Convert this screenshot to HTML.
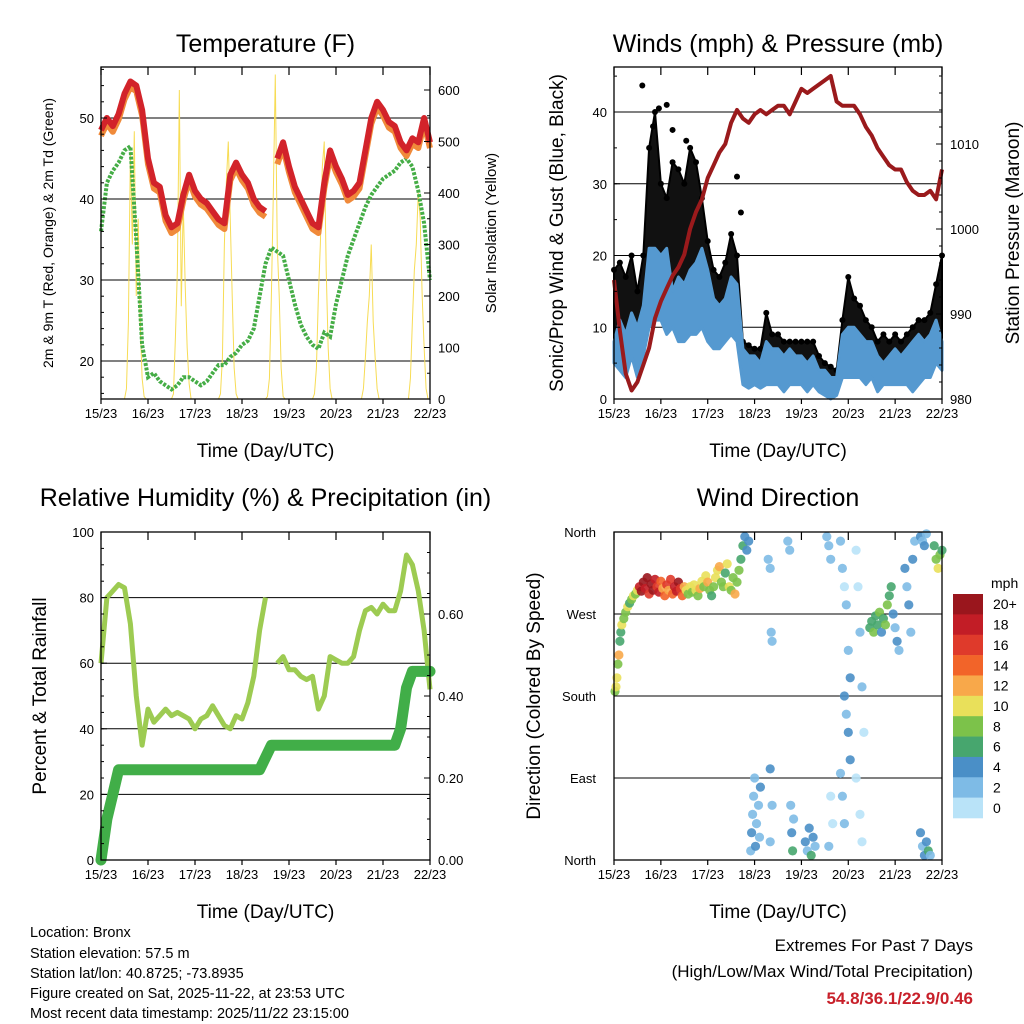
<!DOCTYPE html>
<html><head><meta charset="utf-8"><style>
html,body{margin:0;padding:0;background:#fff;}
svg{display:block;font-family:"Liberation Sans",sans-serif;}
</style></head><body>
<svg id="chart" width="1024" height="1024" viewBox="0 0 1024 1024" xmlns="http://www.w3.org/2000/svg">
<g id="layer"></g>
<g font-size="14.5" fill="#000">
<text x="30" y="937">Location: Bronx</text>
<text x="30" y="958">Station elevation: 57.5 m</text>
<text x="30" y="978">Station lat/lon: 40.8725; -73.8935</text>
<text x="30" y="998">Figure created on Sat, 2025-11-22, at 23:53 UTC</text>
<text x="30" y="1018">Most recent data timestamp: 2025/11/22 23:15:00</text>
</g>
<g text-anchor="end" font-size="17">
<text x="973" y="951">Extremes For Past 7 Days</text>
<text x="973" y="977">(High/Low/Max Wind/Total Precipitation)</text>
<text x="973" y="1004" font-weight="bold" fill="#c8202a">54.8/36.1/22.9/0.46</text>
</g>
</svg>
<script>
// ---- shared time axis (3-hour steps over 7 days) ----
const dayLabels = ["15/23","16/23","17/23","18/23","19/23","20/23","21/23","22/23"];
// ---- Temperature panel ----
const tempF = [48.5,50,49,50.5,53,54.5,54,51,45,42,41.5,38,36.5,37,40.5,43,41,40,39.5,38.5,37.5,37,43,44.5,43,42,40,39,38.5,null,45,47,44,41.5,40,38.5,37,36.5,42,46,44,42.5,40.5,41,42,46,50,52,51,49.5,49,47,46,47.5,47,50,47];
const dewF = [36,42,43.5,44.5,46,46.5,35,22,18,18.5,17.5,17,16.5,17,18,18,17.5,17,17.5,18.5,19.5,19.5,20.5,21,22,22.5,24,28,32,34,33.5,33,30,27,24.5,23,22,21.5,23.5,23,27,30,33,35,37,39,40.5,41.5,42.5,43,43.5,44.5,45,44,41,37,30];
// solar insolation per day (16..22), hourly 12..21 UTC
const solar = [
 [20,150,480,300,520,200,350,150,40,5],
 [10,120,250,600,180,380,220,100,30,0],
 [10,80,300,420,500,350,200,60,10,0],
 [5,40,200,400,630,300,200,60,5,0],
 [10,60,200,300,450,500,250,100,20,0],
 [0,20,80,150,200,300,150,80,20,0],
 [0,40,150,250,300,400,350,200,100,20]];
const tempTicks = [20,30,40,50];
const solarTicks = [0,100,200,300,400,500,600];
// ---- Wind panel ----
const pressure = [994,988,983,981,982,984,986,989.5,991.5,993,994.5,995.5,997,1000,1002,1003.5,1006,1007.5,1009,1010,1012.5,1014,1013,1012.5,1013.5,1014,1013.5,1014,1014.5,1014.5,1013.5,1015,1016.5,1016,1016.5,1017,1017.5,1018,1015,1014.5,1014.5,1014.5,1013.5,1012,1011,1009.5,1008.5,1007.5,1007,1007,1005.5,1004.5,1004,1004,1004.5,1003.5,1007];
const windHi = [8,11,9,12,10,13,21,21,20,21,15,17,16,18,19,21,18,14,13,14,17,16,7,6,6,5,8,7,7,6,7,6,6,5,6,4,4,3,3,9,10,10,9,8,8,6,5,6,7,6,7,8,9,8,9,11,8];
const windLo = [5,4,3,6,3,6,10,11,11,9,10,8,8,9,9,10,8,7,7,8,9,8,2,1.5,2,1.5,2,2,2,1,2,2,2,1,2,1,0.5,0,0.5,3,3,3,3,2,3,1,2,2,2,2,2,1,2,3,3,5,4];
const gustHi = [18,19,17,20,15,20,35,40,30,28,33,32,30,35,33,28,22,18,17,19,23,20,8,7.5,7,7,12,9,9,8,8,8,8,8,8,6,5,4.5,4,11,17,14,13,11,10,8,9,8,9,8,9,10,11,11,12,16,20];
const gustOutHour = [14.5,23,27,37,63,65,20,30];
const gustOutVal = [43.7,40.5,41,36,31,26,38,37.5];
const windTicks = [0,10,20,30,40];
const presTicks = [980,990,1000,1010];
// ---- RH / precip panel ----
const rh = [60,80,82,84,83,72,50,35,46,42,44,46,44,45,44,43,40,43,44,47,44,41,40,44,43,48,56,70,80,null,60,62,58,58,56,55,56,46,50,62,61,60,60,62,70,76,77,75,78,76,76,82,93,90,82,70,52];
const precip = [0,0.1,0.16,0.22,0.22,0.22,0.22,0.22,0.22,0.22,0.22,0.22,0.22,0.22,0.22,0.22,0.22,0.22,0.22,0.22,0.22,0.22,0.22,0.22,0.22,0.22,0.22,0.22,0.25,0.28,0.28,0.28,0.28,0.28,0.28,0.28,0.28,0.28,0.28,0.28,0.28,0.28,0.28,0.28,0.28,0.28,0.28,0.28,0.28,0.28,0.28,0.32,0.42,0.46,0.46,0.46,0.46];
const rhTicks = [0,20,40,60,80,100];
const precipTicks = ["0.00","0.20","0.40","0.60"];
// ---- wind direction panel ----
const dirHour = [0.5,1,1.5,2,2.5,3,3.5,4,5,6,7,8,9,10,11,12,
 13,14,15,16,17,18,19,20,21,22,23,24,25,26,27,28,29,30,31,32,33,34,35,36,37,38,39,40,41,42,43,44,45,46,47,48,49,50,51,52,53,54,55,56,57,58,59,60,61,62,63,64,65,66,67,68,69,
 70,70.5,71,71.5,72,72.5,73,74,74.5,75,79,80,80.5,81,80,81,80,89,90,90.5,91,91.5,92,98,99,100,101,102,103,109,110,111,110,112,111,
 116,117,118,119,120,121,118,119,120,121,116,117,118,124,125,126,127,128,124,126,127,
 131,132,133,134,135,136,137,138,139,140,141,142,143,144,145,146,149,150,151,152,153,154,
 157,158,159,160,157,158,159,160,161,162,164,165,166,167,168];
const dirDeg = [185,190,200,215,225,240,250,258,265,272,278,282,286,290,292,296,
 300,295,305,298,310,292,303,296,308,300,294,306,298,290,302,296,308,292,300,295,305,298,290,300,296,292,300,294,302,296,290,298,306,300,312,305,296,290,300,310,318,322,305,300,315,325,300,296,310,292,305,318,330,345,355,340,350,
 10,30,50,70,90,15,40,60,25,80,330,320,250,240,100,60,20,350,340,60,30,10,45,20,10,35,5,25,15,355,345,330,15,40,70,
 350,320,300,280,230,200,180,160,140,110,95,70,40,340,300,250,190,140,90,50,20,
 255,262,250,268,258,272,250,265,258,280,290,300,270,255,240,230,320,300,280,250,330,350,
 355,350,345,358,30,15,5,20,10,5,345,330,320,335,340];
const dirSpd = [9,10,11,8,12,7,6,10,9,8,10,7,9,11,8,10,
 18,20,21,19,22,17,20,21,19,16,18,14,12,15,17,13,16,14,18,19,20,17,15,13,11,8,10,9,11,10,9,12,10,8,10,13,9,7,8,10,11,12,8,9,7,10,11,8,9,12,8,9,7,6,5,4,4,
 3,4,3,2,3,4,2,3,2,4,2,3,2,3,4,3,2,3,2,3,4,6,3,4,3,5,6,4,3,3,2,3,2,1,1,
 2,3,1,2,3,4,4,3,4,5,3,2,3,1,1,2,2,1,1,1,1,
 7,6,8,7,6,8,5,7,9,8,7,6,4,3,4,3,4,3,4,3,4,3,
 4,3,4,3,4,3,5,4,6,3,7,8,10,9,6];
const speedLabels = ["20+","18","16","14","12","10","8","6","4","2","0"];
const speedColors = ["#9a161d","#c21d26","#df3a2b","#f26429","#f8a84a","#e9e05a","#7cc24a","#47a66e","#4a8fc7","#7ebbe6","#b9e3f8"];

// ---- helpers ----
const NS = "http://www.w3.org/2000/svg";
const layer = document.getElementById('layer');
function mk(tag, attrs, parent, txt){
  const e = document.createElementNS(NS, tag);
  for (const k in attrs) e.setAttribute(k, attrs[k]);
  if (txt !== undefined) e.textContent = txt;
  (parent || layer).appendChild(e);
  return e;
}
function lin(d0,d1,r0,r1){ return v => r0 + (v-d0)*(r1-r0)/(d1-d0); }

function frame(P, title, ty){
  const g = mk('g', {});
  
  
  const t = mk('text', {x:(P.x0+P.x1)/2, y:ty, 'text-anchor':'middle', 'font-size':25}, g, title);
  
  
  const X = lin(0,7,P.x0,P.x1);
  dayLabels.forEach((lb,i)=>{
    const x = X(i);
    mk('line',{x1:x,x2:x,y1:P.y1,y2:P.y1+5,stroke:'#000','stroke-width':1.2},g);
    mk('line',{x1:x,x2:x,y1:P.y0,y2:P.y0+8,stroke:'#000','stroke-width':1.2},g);
    const tl = mk('text',{x:x,y:P.y1+19,'text-anchor':'middle','font-size':13},g,lb);
    
    
  });
  const xt = mk('text',{x:(P.x0+P.x1)/2,y:P.y1+58,'text-anchor':'middle','font-size':19},g,'Time (Day/UTC)');
  
  
  return g;
}
function border(P){
  const r = mk('rect',{x:P.x0,y:P.y0,width:P.x1-P.x0,height:P.y1-P.y0,fill:'none',stroke:'#000','stroke-width':1.3});
  
  
}
function leftTicks(P, ticks, Y, labels, minorStep, lo, hi){
  ticks.forEach((v,i)=>{
    mk('line',{x1:P.x0,x2:P.x0+6,y1:Y(v),y2:Y(v),stroke:'#000'});
    const t = mk('text',{x:P.x0-7,y:Y(v)+5,'text-anchor':'end','font-size':13},layer,labels?labels[i]:v);
    
    
  });
  if (minorStep) for (let v=lo; v<=hi; v+=minorStep){ mk('line',{x1:P.x0,x2:P.x0+3,y1:Y(v),y2:Y(v),stroke:'#000'}); }
}
function rightTicks(P, ticks, Y, labels, minorStep, lo, hi){
  ticks.forEach((v,i)=>{
    const val = labels ? parseFloat(labels[i]) : v;
    mk('line',{x1:P.x1,x2:P.x1-6,y1:Y(val),y2:Y(val),stroke:'#000'});
    const t = mk('text',{x:P.x1+8,y:Y(val)+5,'text-anchor':'start','font-size':13},layer,labels?labels[i]:v);
    
    
  });
  if (minorStep) for (let v=lo; v<=hi+1e-9; v+=minorStep){ mk('line',{x1:P.x1,x2:P.x1-3,y1:Y(v),y2:Y(v),stroke:'#000'}); }
}
function grid(P, vals, Y){
  vals.forEach(v=> mk('line',{x1:P.x0,x2:P.x1,y1:Y(v),y2:Y(v),stroke:'#000','stroke-width':1}));
}
function vtitle(x, y, txt, size, name){
  const t = mk('text',{x:x,y:y,'text-anchor':'middle','font-size':size,transform:`rotate(-90 ${x} ${y})`},layer,txt);
  
  
}
function pathFrom(arr, X, Y){
  let d = '', pen = false;
  arr.forEach((v,i)=>{
    if (v === null){ pen = false; return; }
    d += (pen ? 'L' : 'M') + X(i).toFixed(1) + ',' + Y(v).toFixed(1);
    pen = true;
  });
  return d;
}

// ===== Panel 1: Temperature =====
(function(){
  const P = {x0:101,x1:430,y0:67,y1:399,name:'temperature-panel'};
  frame(P,'Temperature (F)',52);
  const Xi = lin(0,56,P.x0,P.x1);
  const Y = lin(50,20,118,361);
  const Ys = lin(0,600,399,90);
  const Xh = lin(0,168,P.x0,P.x1);
  grid(P,tempTicks,Y);
  const sg = mk('g',{fill:'none',stroke:'#f7dc55','stroke-width':1});
  
  
  solar.forEach((day,d)=>{
    const pts = [[Xh(24*d+1+11), Ys(0)]];
    day.forEach((v,k)=> pts.push([Xh(24*d+1+12+k), Ys(v)]));
    pts.push([Xh(24*d+1+22), Ys(0)]);
    const p = mk('polyline',{points:pts.map(q=>q.join(',')).join(' ')},sg);
    
    
  });
  const dp = mk('path',{d:pathFrom(dewF,Xi,Y),fill:'none',stroke:'#45ad46','stroke-width':4,'stroke-dasharray':'3 1.5'});
  
  
  const op = mk('path',{d:pathFrom(tempF.map(v=>v===null?null:v-0.7),Xi,Y),fill:'none',stroke:'#f08a3a','stroke-width':6,'stroke-linejoin':'round'});
  
  
  const tp = mk('path',{d:pathFrom(tempF,Xi,Y),fill:'none',stroke:'#d2232a','stroke-width':6,'stroke-linejoin':'round'});
  
  
  leftTicks(P,tempTicks,Y,null,2,16,56);
  rightTicks(P,solarTicks,Ys,null,50,0,640);
  border(P);
  vtitle(53,233,'2m & 9m T (Red, Orange) & 2m Td (Green)',14,'y-axis-title');
  vtitle(496,233,'Solar Insolation (Yellow)',15,'y2-axis-title');
})();

// ===== Panel 2: Winds =====
(function(){
  const P = {x0:614,x1:942,y0:67,y1:399,name:'winds-panel'};
  frame(P,'Winds (mph) & Pressure (mb)',52);
  const Xi = lin(0,56,P.x0,P.x1);
  const Y = lin(0,40,399,112);
  const Yp = lin(980,1010,399,144);
  const Xh = lin(0,168,P.x0,P.x1);
  grid(P,windTicks,Y);
  let d = 'M'; windHi.forEach((v,i)=> d += (i?'L':'') + Xi(i).toFixed(1)+','+Y(v).toFixed(1));
  for (let i=gustHi.length-1;i>=0;i--) d += 'L'+Xi(i).toFixed(1)+','+Y(gustHi[i]).toFixed(1);
  const gb = mk('path',{d:d+'Z',fill:'#111',stroke:'#000','stroke-width':2,'stroke-linejoin':'round'});
  
  
  gustOutHour.forEach((h,i)=>{
    const c = mk('circle',{cx:Xh(h),cy:Y(gustOutVal[i]),r:3,fill:'#000'});
    
    
  });
  gustHi.forEach((v,i)=>{
    const c = mk('circle',{cx:Xi(i),cy:Y(v),r:3,fill:'#000'});
    
    
  });
  let w = 'M'; windLo.forEach((v,i)=> w += (i?'L':'') + Xi(i).toFixed(1)+','+Y(v).toFixed(1));
  for (let i=windHi.length-1;i>=0;i--) w += 'L'+Xi(i).toFixed(1)+','+Y(windHi[i]).toFixed(1);
  const wb = mk('path',{d:w+'Z',fill:'#5599d0',stroke:'#5599d0','stroke-width':3,'stroke-linejoin':'round'});
  
  
  const pp = mk('path',{d:pathFrom(pressure,Xi,Yp),fill:'none',stroke:'#9a1a1c','stroke-width':4,'stroke-linejoin':'round'});
  
  
  leftTicks(P,windTicks,Y,null,5,0,45);
  rightTicks(P,presTicks,Yp,null,2,980,1018);
  border(P);
  vtitle(563,233,'Sonic/Prop Wind & Gust (Blue, Black)',19,'y-axis-title');
  vtitle(1019,233,'Station Pressure (Maroon)',19,'y2-axis-title');
})();

// ===== Panel 3: RH & precip =====
(function(){
  const P = {x0:101,x1:430,y0:532,y1:860,name:'humidity-precip-panel'};
  frame(P,'Relative Humidity (%) & Precipitation (in)',506);
  const Xi = lin(0,56,P.x0,P.x1);
  const Y = lin(0,100,860,532);
  const Yp = lin(0,0.2,860,778);
  grid(P,[20,40,60,80],Y);
  const rp = mk('path',{d:pathFrom(rh,Xi,Y),fill:'none',stroke:'#9dcb52','stroke-width':5,'stroke-linejoin':'round'});
  
  
  const pp = mk('path',{d:pathFrom(precip,Xi,Yp),fill:'none',stroke:'#41ae48','stroke-width':11,'stroke-linejoin':'round','stroke-linecap':'round'});
  
  
  leftTicks(P,rhTicks,Y,null,5,0,100);
  rightTicks(P,precipTicks.map(parseFloat),Yp,precipTicks,0.05,0,0.8);
  border(P);
  vtitle(46,696,'Percent & Total Rainfall',19,'y-axis-title');
})();

// ===== Panel 4: Wind direction =====
(function(){
  const P = {x0:614,x1:942,y0:532,y1:860,name:'wind-direction-panel'};
  frame(P,'Wind Direction',506);
  const Xh = lin(0,168,P.x0,P.x1);
  const Y = lin(0,360,860,532);
  grid(P,[90,180,270],Y);
  const dg = mk('g',{'fill-opacity':0.9});
  
  
  dirHour.forEach((h,i)=>{
    const s = dirSpd[i];
    const idx = 10 - Math.min(10, Math.floor(s/2));
    const c = mk('circle',{cx:Xh(h).toFixed(1),cy:Y(dirDeg[i]).toFixed(1),r:4.6,fill:speedColors[idx]},dg);
    
    
  });
  const dirLabels = ["North","East","South","West","North"];
  dirLabels.forEach((lb,i)=>{
    const v = i*90;
    mk('line',{x1:P.x0,x2:P.x0+6,y1:Y(v),y2:Y(v),stroke:'#000'});
    const t = mk('text',{x:P.x0-18,y:Y(v)+5,'text-anchor':'end','font-size':13},layer,lb);
    
    
  });
  border(P);
  vtitle(540,696,'Direction (Colored By Speed)',19,'y-axis-title');
  const lg = mk('g',{});
  
  
  mk('text',{x:991,y:588,'font-size':14},lg,'mph');
  const bh = (818-594)/speedLabels.length;
  speedLabels.forEach((lb,i)=>{
    const r = mk('rect',{x:953,y:594+i*bh,width:30,height:bh+0.3,fill:speedColors[i]},lg);
    
    
    const t = mk('text',{x:993,y:594+i*bh+bh/2+5,'font-size':14},lg,lb);
    
    
  });
})();
</script>
</body></html>
